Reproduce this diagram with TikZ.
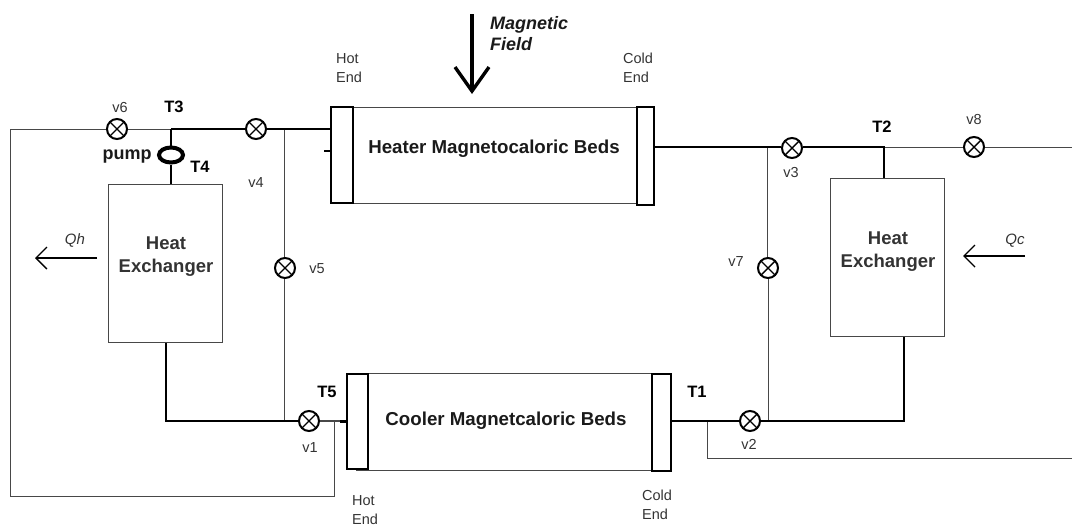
\documentclass[tikz,border=0pt]{standalone}
\usepackage{fontspec}
\setmainfont{Liberation Sans}
\usetikzlibrary{arrows.meta,shapes.geometric}
\definecolor{ink}{HTML}{1A1A1A}
\definecolor{txt}{HTML}{333333}
\tikzset{
  x=1pt,y=-1pt,
  thinpipe/.style={draw=ink!80,line width=0.9pt},
  thickpipe/.style={draw=black,line width=2.4pt},
  valve/.style={circle,draw=black,fill=white,line width=2pt,minimum size=20pt,inner sep=0pt,
    path picture={\draw[line width=1.4pt] (path picture bounding box.north west)--(path picture bounding box.south east)
      (path picture bounding box.north east)--(path picture bounding box.south west);}},
  hx/.style={draw=ink!80,line width=1pt,minimum width=114pt,minimum height=158pt,inner sep=0pt},
  hxtext/.style={font=\fontsize{18.5}{23}\selectfont\bfseries,text=txt,align=center,inner sep=0pt},
  body/.style={draw=ink!80,line width=1pt,inner sep=0pt,font=\fontsize{18.7}{22}\selectfont\bfseries,text=ink},
  bedcap/.style={draw=black,line width=2.2pt,fill=white,inner sep=0pt},
  small/.style={font=\fontsize{14.5}{19}\selectfont,text=txt,inner sep=0pt,align=left},
  tlabel/.style={font=\fontsize{16.5}{18}\selectfont\bfseries,text=black,inner sep=0pt},
  qlabel/.style={font=\fontsize{15}{17}\selectfont\itshape,text=txt,inner sep=0pt},
  qarrow/.style={draw=black,line width=1.4pt,-{Straight Barb[length=11pt,width=22pt,line width=1.4pt]}},
}
\begin{document}
\begin{tikzpicture}
\useasboundingbox (0,0) rectangle (1072,528);
% beds
\node[body,minimum width=301pt,minimum height=96pt] (hotbed) at (495,155) {};
\node[bedcap,minimum width=22pt,minimum height=96pt] (hotcapL) at (342,155) {};
\node[bedcap,minimum width=17pt,minimum height=98pt] (hotcapR) at (645.5,156) {};
\node[body,draw=none] (hotname) at (494,149) {Heater Magnetocaloric Beds};
\node[body,minimum width=305pt,minimum height=97pt] (coldbed) at (509,421.5) {};
\node[bedcap,minimum width=21pt,minimum height=95pt] (coldcapL) at (357.5,421.5) {};
\node[bedcap,minimum width=19pt,minimum height=97pt] (coldcapR) at (661.5,422.5) {};
\node[body,draw=none] (coldname) at (506,421) {Cooler Magnetcaloric Beds};
% heat exchangers
\node[hx,anchor=north west] (hxL) at (108,184) {};
\node[hx,anchor=north west] (hxR) at (830,178) {};
\node[hxtext] (hxLt) at (166,257) {Heat\\Exchanger};
\node[hxtext] (hxRt) at (888,252) {Heat\\Exchanger};
% junctions / free ends
\coordinate (jT3) at (171,129);
\coordinate (j4) at (284,129);
\coordinate (jHotIn) at (331,129);
\coordinate (wL) at (10,129);
\coordinate (wLb) at (10,496);
\coordinate (j1b) at (334,496);
\coordinate (j1) at (334,421);
\coordinate (j5) at (284,421);
\coordinate (hxLb) at (166,343);
\coordinate (hxLc) at (166,421);
\coordinate (jColdIn) at (347,421);
\coordinate (stubCold) at (340,421);
\coordinate (stubA) at (324,151);
\coordinate (stubB) at (331,151);
\coordinate (j3) at (767,147);
\coordinate (jT2) at (884,147);
\coordinate (hxRt1) at (884,178);
\coordinate (hotOut) at (654,147);
\coordinate (eR1) at (1072,147);
\coordinate (coldOut) at (671,421);
\coordinate (j2) at (707,421);
\coordinate (j2b) at (707,458);
\coordinate (eR2) at (1072,458);
\coordinate (j7) at (768,421);
\coordinate (hxRb) at (904,337);
\coordinate (hxRc) at (904,421);
% valves
\node[valve] (v6) at (117,129) {};
\node[valve] (v4) at (256,129) {};
\node[valve] (v5) at (285,268) {};
\node[valve] (v1) at (309,421) {};
\node[valve] (v3) at (792,148) {};
\node[valve] (v8) at (974,147) {};
\node[valve] (v7) at (768,268) {};
\node[valve] (v2) at (750,421) {};
% pump
\node[ellipse,draw=black,line width=4pt,minimum width=24pt,minimum height=15pt,inner sep=0pt,fill=white] (pump) at (171,155) {};
% thin pipes
\draw[thinpipe] (wLb) -- (wL) -- (v6.west);
\draw[thinpipe] (v6.east) -- (jT3);
\draw[thinpipe] (j4) -- (v5.north -| j4);
\draw[thinpipe] (v5.south -| j4) -- (j5);
\draw[thinpipe] (j1) -- (j1b) -- (wLb);
\draw[thinpipe] (jT2) -- (v8.west);
\draw[thinpipe] (v8.east) -- (eR1);
\draw[thinpipe] (j3) -- (v7.north -| j3);
\draw[thinpipe] (v7.south) -- (j7);
\draw[thinpipe] (j2) -- (j2b) -- (eR2);
\draw[thinpipe,line width=1.5pt] (v1.east) -- (jColdIn);
% thick pipes
\draw[thickpipe,line width=1.9pt] (jT3) -- (v4.west);
\draw[thickpipe,line width=1.9pt] (v4.east) -- (jHotIn);
\draw[thickpipe] (jT3) -- (pump.north);
\draw[thickpipe] (pump.south) -- (hxL.north -| pump.south);
\draw[thickpipe,line width=1.4pt] (stubA) -- (stubB);
\draw[thickpipe] (hxLb) -- (hxLc) -- (v1.west);
\draw[thickpipe,line width=3pt] (stubCold) -- (jColdIn);
\draw[thickpipe] (hotOut) -- (v3.west |- hotOut);
\draw[thickpipe] (v3.east |- jT2) -- (jT2) -- (hxRt1);
\draw[thickpipe] (hxRb) -- (hxRc) -- (v2.east);
\draw[thickpipe] (coldOut) -- (v2.west);
% arrows
\coordinate (qhA) at (97,258); \coordinate (qhB) at (35,258);
\coordinate (qcA) at (1025,256); \coordinate (qcB) at (963,256);
\draw[qarrow] (qhA) -- (qhB);
\draw[qarrow] (qcA) -- (qcB);
\coordinate (mA) at (472,14); \coordinate (mB) at (472,94);
\draw[draw=black,line width=3.4pt,-{Straight Barb[length=24pt,width=34pt,line width=3.4pt]}] (mA) -- (mB);
% labels
\node[tlabel] (T3) at (174,107) {T3};
\node[tlabel] (T4) at (200,167) {T4};
\node[tlabel] (T5) at (327,392) {T5};
\node[tlabel] (T1) at (697,392) {T1};
\node[tlabel] (T2) at (882,127) {T2};
\node[font=\fontsize{18}{20}\selectfont\bfseries,text=ink,inner sep=0pt] (pumpl) at (127,157) {pump};
\node[small] (lv6) at (120,108) {v6};
\node[small] (lv4) at (256,183) {v4};
\node[small] (lv5) at (317,269) {v5};
\node[small] (lv1) at (310,448) {v1};
\node[small] (lv2) at (749,444) {v2};
\node[small] (lv3) at (791,173) {v3};
\node[small] (lv7) at (736,262) {v7};
\node[small] (lv8) at (974,120) {v8};
\node[qlabel] (Qh) at (75,240) {Qh};
\node[qlabel] (Qc) at (1015,241) {Qc};
\node[small,anchor=west] (hot1) at (336,68) {Hot\\End};
\node[small,anchor=west] (cold1) at (623,68) {Cold\\End};
\node[small,anchor=west] (hot2) at (352,510) {Hot\\End};
\node[small,anchor=west] (cold2) at (642,505) {Cold\\End};
\node[font=\fontsize{18}{21}\selectfont\bfseries\itshape,text=ink,align=left,anchor=west,inner sep=0pt] (mag) at (490,34) {Magnetic\\Field};
\end{tikzpicture}
\end{document}
